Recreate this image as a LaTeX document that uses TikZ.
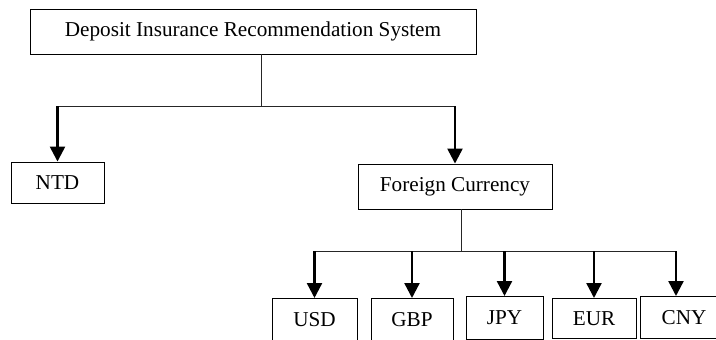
\documentclass[tikz,border=0pt]{standalone}
\usepackage{fontspec}
\setmainfont{Liberation Serif}
\usepackage{tikz}
\usetikzlibrary{arrows.meta, positioning}
\tikzstyle{box}      = [draw, rectangle, line width=0.9pt, inner sep=0pt, align=center, font=\fontsize{21.2}{25}\selectfont]
\tikzstyle{arrow}    = [line width=2.4pt, -{Triangle[width=15pt,length=15pt]}]
\tikzstyle{edge}     = [line width=1pt, draw=black!85]

\begin{document}
\begin{tikzpicture}[x=1pt, y=-1pt]

\useasboundingbox (0,0) rectangle (716,340);
\clip (0,0) rectangle (716,340);

\node[box, minimum width=446pt, minimum height=45pt] (DIRS) at (253,31.5) {Deposit Insurance Recommendation System};

\node[box, minimum width=93pt, minimum height=41pt] (NTD) at (57.5,182.5) {NTD};
\node[box, minimum width=194pt, minimum height=45pt] (FC) at (455,186.5) {Foreign Currency};

\node[box, minimum width=85pt, minimum height=42pt, anchor=north] (USD) at (314.5,298) {USD};
\node[box, minimum width=82pt, minimum height=42pt, anchor=north] (GBP) at (412,298) {GBP};
\node[box, minimum width=77pt, minimum height=43pt, anchor=north] (JPY) at (504.5,296) {JPY};
\node[box, minimum width=84pt, minimum height=40pt, anchor=north] (EUR) at (594,298) {EUR};
\node[box, minimum width=88pt, minimum height=42pt, anchor=north] (CNY) at (684,296) {CNY};

\coordinate (split1) at (261,106);
\coordinate (split2) at (461,251);
\coordinate (cnytop) at ([xshift=-8pt]CNY.north);

\draw[edge] (split1 |- DIRS.south) -- (split1);
\draw[edge] (NTD.north |- split1) -- (FC.north |- split1);
\draw[arrow] (NTD.north |- split1) -- (NTD.north);
\draw[arrow] (FC.north |- split1) -- (FC.north);

\draw[edge] (split2 |- FC.south) -- (split2);
\draw[edge] (USD.north |- split2) -- (cnytop |- split2);
\draw[arrow] (USD.north |- split2) -- (USD.north);
\draw[arrow] (GBP.north |- split2) -- (GBP.north);
\draw[arrow] (JPY.north |- split2) -- (JPY.north);
\draw[arrow] (EUR.north |- split2) -- (EUR.north);
\draw[arrow] (cnytop |- split2) -- (cnytop);

\end{tikzpicture}
\end{document}
